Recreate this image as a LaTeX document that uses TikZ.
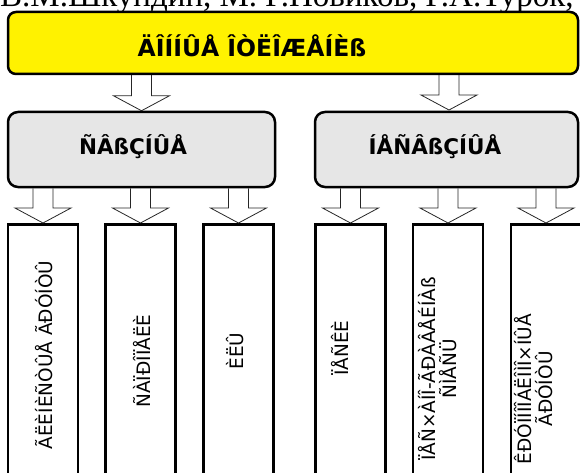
\documentclass[tikz,border=0pt]{standalone}
\usepackage{fontspec}
\setmainfont{DejaVu Sans}
\newfontfamily\authorfont{Liberation Serif}
\usetikzlibrary{calc}

\definecolor{groupgray}{RGB}{230,230,230}

\tikzset{
  box/.style={draw=black, line width=2.5pt, inner sep=0pt},
  titlebox/.style={box, rounded corners=8pt, fill=yellow, minimum height=62pt},
  groupbox/.style={box, rounded corners=10pt, fill=groupgray, minimum height=75pt},
  soilbox/.style={box, minimum width=70pt, minimum height=300pt, anchor=north},
  titletext/.style={inner sep=0pt, font={\fontsize{23.5}{26}\selectfont\bfseries}},
  grouptext/.style={inner sep=0pt, font={\fontsize{21.5}{24}\selectfont\bfseries}},
  soiltext/.style={inner sep=0pt, rotate=90, align=center, font={\fontsize{18.5}{21}\selectfont}},
  hollow/.style={draw=black!85, line width=0.8pt},
}

% hollow block arrow: shaft from #1 down to the tip #2
\newcommand{\blockarrow}[2]{%
  \draw[hollow] let \p1=(#1), \p2=(#2) in
    (\x2-10pt,\y1) -- (\x2-10pt,\y2+15pt) -- (\x2-28pt,\y2+15pt) -- (\x2,\y2)
    -- (\x2+28pt,\y2+15pt) -- (\x2+10pt,\y2+15pt) -- (\x2+10pt,\y1);}

\begin{document}
\begin{tikzpicture}[x=1pt, y=-1pt]
  \useasboundingbox (0,0) rectangle (580,473);

  % cut-off line above the chart
  \node[anchor=base west, inner sep=0pt, font={\authorfont\fontsize{33}{33}\selectfont}] (authors) at (0,7) {В.М.Шкундин, М. Г.Новиков, Г.А.Турок,};

  % boxes
  \node[titlebox, minimum width=570pt] (sediments) at (293,43) {};
  \node[groupbox, minimum width=267pt] (cohesive) at (141.5,149.5) {};
  \node[groupbox, minimum width=263pt] (loose) at (446.5,149.5) {};

  \node[soilbox] (clay) at (43,223) {};
  \node[soilbox] (sapropel) at (140.5,223) {};
  \node[soilbox] (silt) at (238.5,223) {};
  \node[soilbox] (sand) at (350.5,223) {};
  \node[soilbox] (gravel) at (448,223) {};
  \node[soilbox] (coarse) at (546,223) {};

  % texts
  \node[titletext] (sedtext) at (252,46) {ÄÎÍÍÛÅ ÎÒËÎÆÅÍÈß};
  \node[grouptext] (cohtext) at (133,147) {ÑÂßÇÍÛÅ};
  \node[grouptext] (loosetext) at (435,147) {ÍÅÑÂßÇÍÛÅ};

  \node[soiltext] (claytext) at (44,355) {ÃËÈÍÈÑÒÛÅ ÃÐÓÍÒÛ};
  \node[soiltext] (saprotext) at (142,361) {ÑÀÏÐÎÏÅËÈ};
  \node[soiltext] (silttext) at (235,351) {ÈËÛ};
  \node[soiltext] (sandtext) at (340,348) {ÏÅÑÊÈ};
  \node[soiltext] (graveltext) at (438,369) {ÏÅÑ×ÀÍÎ-ÃÐÀÂÅÉÍÀß\\ÑÌÅÑÜ};
  \node[soiltext] (coarsetext) at (534,389) {ÊÐÓÏÍÎÎÁËÎÌÎ×ÍÛÅ\\ÃÐÓÍÒÛ};

  % arrows
  \blockarrow{sediments.south -| cohesive.north}{cohesive.north}
  \blockarrow{sediments.south -| 449,0}{449,110}
  \foreach \g/\s in {cohesive/clay, cohesive/sapropel, cohesive/silt, loose/sand, loose/gravel, loose/coarse}
    \blockarrow{\g.south -| \s.north}{\s.north};
\end{tikzpicture}
\end{document}
